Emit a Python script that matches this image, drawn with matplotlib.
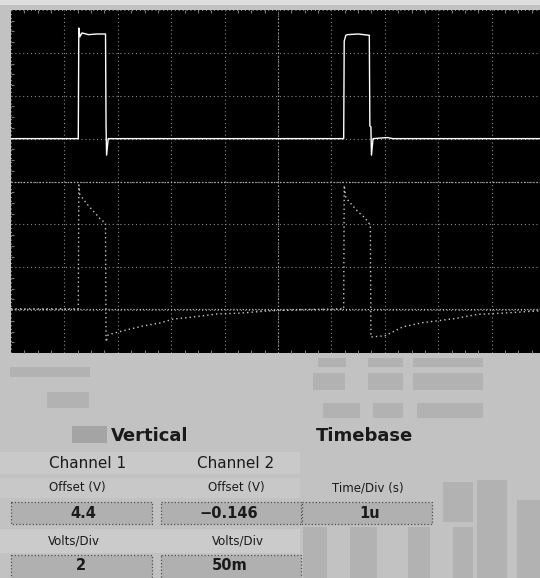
import matplotlib
matplotlib.use("Agg")
import matplotlib.pyplot as plt
from matplotlib.patches import Rectangle
import numpy as np

# channel 1 trace (time in us, volts)
ch1_t = [0.0, 1.26, 1.27, 1.29, 1.33, 1.45, 1.60, 1.77, 1.78, 1.79, 1.82,
         6.23, 6.24, 6.27, 6.30, 6.50, 6.71, 6.72, 6.74, 6.75, 6.78, 7.05, 7.15, 10.0]
ch1_v = [0.0, 0.0, 5.16, 4.75, 4.93, 4.85, 4.88, 4.88, 0.6, -0.77, 0.0,
         0.0, 4.55, 4.82, 4.85, 4.88, 4.82, 0.59, 0.55, -0.77, 0.0, 0.05, 0.0, 0.0]

# channel 2 trace (time in us, millivolts)
ch2_t = [0.0, 1.26, 1.27, 1.29, 1.44, 1.57, 1.67, 1.77, 1.78, 1.82, 1.95, 2.17,
         2.47, 2.79, 3.03, 3.41, 3.86, 4.29, 4.79, 5.40, 6.23,
         6.24, 6.27, 6.50, 6.63, 6.70, 6.73, 6.74, 6.78, 7.00, 7.34, 7.72, 7.98,
         8.35, 8.73, 9.21, 9.85, 10.0]
ch2_mv = [0.0, 0.0, 144.5, 133.0, 121.0, 112.0, 105.0, 100.0, -38.5, -30.3, -28.0, -24.5,
          -20.0, -16.5, -12.0, -9.5, -6.0, -5.0, -2.5, -1.0, 0.0,
          144.0, 129.5, 113.0, 106.0, 100.0, 98.0, -33.0, -32.5, -31.5, -21.0, -16.0, -14.0,
          -11.0, -6.5, -5.0, -2.5, -2.0]

ch1_volts_div = 2.0
ch2_volts_div = 0.05
ch1_pos = 1.0      # ground marker position in divisions
ch2_pos = -2.97

# panel texts
heads = ["Vertical", "Timebase"]
channels = ["Channel 1", "Channel 2"]
offset_labels = ["Offset (V)", "Offset (V)", "Time/Div (s)"]
offset_values = ["4.4", "\u22120.146", "1u"]
scale_labels = ["Volts/Div", "Volts/Div"]
scale_values = ["2", "50m"]

W, H = 540, 578
fig = plt.figure(figsize=(W / 100, H / 100), dpi=100)
fig.patch.set_facecolor("#c2c2c2")

# background panel in pixel coordinates
bg = fig.add_axes([0, 0, 1, 1])
bg.set_xlim(0, W)
bg.set_ylim(H, 0)
bg.axis("off")

def box(x, y, w, h, fc, ec="none", ls="-", lw=0.0, z=1):
    bg.add_patch(Rectangle((x, y), w, h, facecolor=fc, edgecolor=ec, linestyle=ls, linewidth=lw, zorder=z))

box(0, 0, W, 5, "#dedede")
# lighter bands behind the label rows
box(0, 452, 300, 22, "#c9c9c9")
box(0, 478, 300, 20, "#c8c8c8")
box(0, 529, 300, 24, "#cbcbcb")
# ghost blocks of the old window
for (x, y, w, h) in [(313, 373, 32, 17), (368, 373, 35, 17), (413, 373, 70, 17),
                     (318, 358, 28, 9), (368, 358, 35, 9), (413, 358, 70, 9),
                     (323, 403, 37, 15), (373, 403, 30, 15), (417, 403, 66, 15),
                     (72, 426, 35, 17), (10, 367, 80, 10), (47, 392, 42, 16),
                     (303, 527, 24, 51), (350, 527, 27, 51), (408, 527, 22, 51),
                     (453, 527, 20, 51), (477, 480, 30, 98), (517, 500, 23, 78),
                     (443, 482, 30, 40)]:
    box(x, y, w, h, "#b2b2b2")
box(72, 426, 35, 17, "#a4a4a4")

# value boxes
for (x, w) in [(11, 141), (161, 140), (302, 130)]:
    box(x, 502, w, 22, "#b0b0b0", "#505050", ":", 0.9, 2)
for (x, w) in [(11, 141), (161, 140)]:
    box(x, 555, w, 30, "#b0b0b0", "#505050", ":", 0.9, 2)

tk = dict(ha="center", va="center", family="DejaVu Sans", color="#1a1a1a", zorder=3)
for s, x in zip(heads, [150, 365]):
    bg.text(x, 436, s, fontsize=13, fontweight="bold", **tk)
for s, x in zip(channels, [88, 236]):
    bg.text(x, 463, s, fontsize=11, **tk)
for s, x in zip(offset_labels, [77, 236, 368]):
    bg.text(x, 488, s, fontsize=8.5, **tk)
for s, x in zip(offset_values, [83, 229, 370]):
    bg.text(x, 513, s, fontsize=10.5, fontweight="bold", **tk)
for s, x in zip(scale_labels, [74, 238]):
    bg.text(x, 541, s, fontsize=8.5, **tk)
for s, x in zip(scale_values, [81, 230]):
    bg.text(x, 566, s, fontsize=10.5, fontweight="bold", **tk)

# scope screen: 10 x 8 divisions, right edge runs past the picture
x0, x1, y0, y1 = 11, 545, 10, 353
ax = fig.add_axes([x0 / W, 1 - y1 / H, (x1 - x0) / W, (y1 - y0) / H])
ax.set_facecolor("black")
ax.set_xlim(0, 10)
ax.set_ylim(-4, 4)
for sp in ax.spines.values():
    sp.set_visible(False)
ax.set_xticks(range(0, 11))
ax.set_yticks(range(-4, 5))
ax.set_xticks(np.arange(0, 10.01, 0.25), minor=True)
ax.set_yticks(np.arange(-4, 4.01, 0.25), minor=True)
ax.tick_params(which="both", direction="in", labelbottom=False, labelleft=False,
               colors="#7a7a7a", top=True, right=True)
ax.tick_params(which="major", length=0)
ax.tick_params(which="minor", length=2.5, width=0.8)
ax.grid(True, which="major", color="#8c8c8c", linestyle=(0, (1, 2.5)), linewidth=0.8)
ax.axhline(0, color="#b0b0b0", linestyle=(0, (1, 1.5)), linewidth=0.9)
ax.axvline(5, color="#a0a0a0", linestyle=(0, (1, 2)), linewidth=0.8)
ax.axhline(ch2_pos, color="#bdbdbd", linestyle=(0, (1, 1.5)), linewidth=0.9)

y_ch1 = np.array(ch1_v) / ch1_volts_div + ch1_pos
y_ch2 = np.array(ch2_mv) / 1000 / ch2_volts_div + ch2_pos
ax.plot(ch2_t, y_ch2, color="#c8c8c8", linestyle=(0, (1, 2.2)), linewidth=1.0)
ax.plot(ch1_t, y_ch1, color="white", linewidth=1.0)

fig.savefig("out.png", dpi=100, facecolor=fig.get_facecolor())
